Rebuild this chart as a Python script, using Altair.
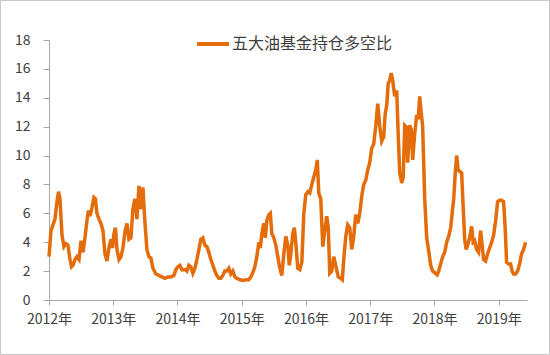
import altair as alt
import pandas as pd

series_name = "五大油基金持仓多空比"

# observation time as decimal year
year_pos = [
    2012.000, 2012.031, 2012.062, 2012.093, 2012.124, 2012.148, 2012.171, 2012.202, 2012.233, 2012.264,
    2012.295, 2012.327, 2012.350, 2012.373, 2012.404, 2012.435, 2012.467, 2012.498, 2012.529, 2012.560,
    2012.591, 2012.614, 2012.638, 2012.669, 2012.700, 2012.723, 2012.746, 2012.778, 2012.809, 2012.840,
    2012.871, 2012.902, 2012.933, 2012.964, 2012.988, 2013.011, 2013.034, 2013.058, 2013.089, 2013.120,
    2013.151, 2013.182, 2013.213, 2013.244, 2013.275, 2013.306, 2013.337, 2013.369, 2013.400, 2013.431,
    2013.462, 2013.493, 2013.524, 2013.555, 2013.586, 2013.617, 2013.664, 2013.711, 2013.757, 2013.804,
    2013.851, 2013.897, 2013.944, 2013.975, 2014.006, 2014.037, 2014.068, 2014.115, 2014.146, 2014.177,
    2014.208, 2014.239, 2014.271, 2014.302, 2014.333, 2014.364, 2014.395, 2014.426, 2014.457, 2014.488,
    2014.519, 2014.551, 2014.582, 2014.613, 2014.644, 2014.675, 2014.706, 2014.737, 2014.768, 2014.799,
    2014.830, 2014.862, 2014.893, 2014.924, 2014.970, 2015.017, 2015.064, 2015.110, 2015.142, 2015.173,
    2015.204, 2015.235, 2015.266, 2015.289, 2015.313, 2015.344, 2015.367, 2015.390, 2015.421, 2015.445,
    2015.468, 2015.499, 2015.530, 2015.561, 2015.593, 2015.624, 2015.655, 2015.686, 2015.717, 2015.740,
    2015.764, 2015.795, 2015.818, 2015.841, 2015.872, 2015.904, 2015.935, 2015.966, 2015.997, 2016.028,
    2016.059, 2016.090, 2016.121, 2016.152, 2016.176, 2016.199, 2016.230, 2016.261, 2016.292, 2016.323,
    2016.347, 2016.370, 2016.401, 2016.432, 2016.463, 2016.502, 2016.541, 2016.565, 2016.588, 2016.619,
    2016.650, 2016.681, 2016.712, 2016.743, 2016.774, 2016.806, 2016.837, 2016.868, 2016.899, 2016.930,
    2016.961, 2016.992, 2017.023, 2017.054, 2017.085, 2017.117, 2017.148, 2017.179, 2017.210, 2017.233,
    2017.257, 2017.280, 2017.303, 2017.327, 2017.350, 2017.381, 2017.412, 2017.435, 2017.459, 2017.490,
    2017.513, 2017.537, 2017.560, 2017.583, 2017.614, 2017.638, 2017.661, 2017.692, 2017.723, 2017.746,
    2017.770, 2017.793, 2017.816, 2017.848, 2017.879, 2017.910, 2017.941, 2017.972, 2018.003, 2018.042,
    2018.065, 2018.096, 2018.127, 2018.159, 2018.190, 2018.221, 2018.252, 2018.275, 2018.299, 2018.322,
    2018.345, 2018.369, 2018.392, 2018.423, 2018.446, 2018.470, 2018.493, 2018.516, 2018.547, 2018.578,
    2018.602, 2018.625, 2018.656, 2018.687, 2018.718, 2018.742, 2018.765, 2018.796, 2018.827, 2018.858,
    2018.889, 2018.921, 2018.952, 2018.983, 2019.014, 2019.045, 2019.076, 2019.100, 2019.123, 2019.154,
    2019.185, 2019.208, 2019.232, 2019.263, 2019.294, 2019.325, 2019.356, 2019.387, 2019.418,
]

ratio = [
    3.0, 4.8, 5.2, 5.6, 6.8, 7.5, 7.0, 4.5, 3.7, 3.9,
    3.8, 2.8, 2.3, 2.4, 2.8, 3.0, 2.8, 4.1, 3.3, 4.3,
    5.5, 6.2, 5.8, 6.4, 7.1, 7.0, 6.0, 5.6, 5.3, 4.8,
    3.2, 2.7, 3.6, 4.2, 3.6, 4.6, 5.0, 3.5, 2.8, 3.0,
    3.6, 4.7, 5.3, 4.2, 4.3, 6.3, 7.0, 5.6, 7.9, 6.3,
    7.8, 5.4, 3.5, 3.0, 2.9, 2.2, 1.8, 1.7, 1.6, 1.5,
    1.6, 1.6, 1.7, 2.1, 2.3, 2.4, 2.1, 2.1, 2.0, 2.4,
    2.3, 1.85, 2.2, 2.8, 3.5, 4.2, 4.3, 3.8, 3.7, 3.3,
    2.8, 2.4, 2.0, 1.7, 1.5, 1.5, 1.7, 2.0, 2.0, 2.2,
    1.8, 2.0, 1.6, 1.5, 1.4, 1.35, 1.4, 1.4, 1.6, 1.9,
    2.3, 3.0, 4.0, 3.6, 4.6, 5.3, 4.3, 5.5, 5.9, 6.0,
    4.6, 4.3, 3.8, 3.0, 2.2, 1.7, 3.2, 4.4, 3.8, 2.4,
    3.2, 4.6, 5.0, 4.0, 2.2, 2.1, 2.6, 6.0, 7.3, 7.5,
    7.4, 8.0, 8.5, 9.0, 9.7, 7.4, 7.0, 3.7, 4.8, 5.8,
    5.0, 1.85, 2.0, 3.0, 2.4, 1.6, 1.5, 1.4, 2.8, 4.4,
    5.2, 5.0, 3.5, 4.4, 5.9, 5.3, 6.0, 7.2, 8.0, 8.3,
    9.0, 9.5, 10.5, 10.8, 12.0, 13.6, 12.0, 11.0, 11.3, 12.9,
    13.5, 15.0, 15.2, 15.7, 15.2, 14.1, 14.5, 11.5, 8.8, 8.1,
    8.5, 12.1, 12.0, 9.5, 12.1, 11.8, 9.7, 11.5, 12.8, 12.5,
    14.1, 13.0, 12.0, 7.0, 4.3, 3.4, 2.4, 2.0, 1.9, 1.75,
    2.0, 2.5, 3.0, 3.3, 4.0, 4.4, 5.0, 6.0, 7.0, 8.7,
    10.0, 9.0, 8.9, 8.8, 6.5, 4.2, 3.5, 3.8, 4.3, 5.1,
    4.0, 4.1, 3.5, 3.3, 4.8, 3.8, 2.8, 2.7, 3.2, 3.6,
    4.0, 4.5, 5.5, 6.8, 6.9, 6.9, 6.8, 5.0, 2.6, 2.5,
    2.5, 2.0, 1.8, 1.8, 2.0, 2.5, 3.2, 3.5, 4.0,
]

year_ticks = [2012, 2013, 2014, 2015, 2016, 2017, 2018, 2019]
y_ticks = [0, 2, 4, 6, 8, 10, 12, 14, 16, 18]

df = pd.DataFrame({"t": year_pos, "v": ratio, "s": series_name})

FONT = "Noto Sans CJK SC"
AXIS_GRAY = "#a6a6a6"
TEXT = "#404040"

line = alt.Chart(df).mark_line(strokeWidth=3.5, clip=False).encode(
    x=alt.X(
        "t:Q",
        scale=alt.Scale(domain=[2012, 2019.44], nice=False, zero=False),
        axis=alt.Axis(
            values=year_ticks, labelExpr="datum.value + '年'", title=None, grid=False,
            tickSize=5, labelPadding=7, domainColor=AXIS_GRAY, tickColor=AXIS_GRAY,
            labelFontSize=14, labelFont=FONT, labelColor=TEXT, labelFlush=False,
            labelOverlap=False,
        ),
    ),
    y=alt.Y(
        "v:Q",
        scale=alt.Scale(domain=[0, 18], nice=False),
        axis=alt.Axis(
            values=y_ticks, title=None, grid=False, tickSize=6, labelPadding=13,
            domainColor=AXIS_GRAY, tickColor=AXIS_GRAY, labelFontSize=14,
            labelFont=FONT, labelColor=TEXT,
        ),
    ),
    color=alt.Color(
        "s:N",
        scale=alt.Scale(range=["#E46C0A"]),
        legend=alt.Legend(
            title=None, orient="none", legendX=146, legendY=-14, symbolType="stroke",
            symbolSize=1024, symbolStrokeWidth=4, labelFontSize=16, labelFont=FONT,
            labelColor=TEXT, padding=0, labelOffset=1, labelLimit=400,
        ),
    ),
)

frame = alt.Chart(alt.Data(values=[{}])).mark_rect(
    fillOpacity=0, stroke="#c8c8c8", strokeWidth=1, clip=False
).encode(
    x=alt.value(-48.5), x2=alt.value(500.5), y=alt.value(-39.5), y2=alt.value(314.5)
)

chart = alt.layer(frame, line).properties(
    width=478, height=260,
    autosize=alt.AutoSizeParams(type="none"),
    padding={"left": 49, "top": 40, "right": 23, "bottom": 55},
    background="white",
).configure_view(stroke=None)

chart.save("out.html", embed_options={"renderer": "svg", "actions": False})
